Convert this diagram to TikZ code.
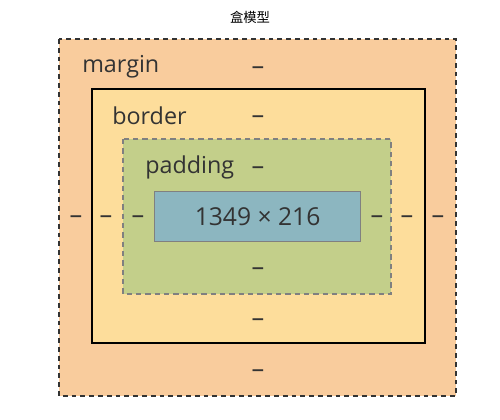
\documentclass[tikz,border=0pt]{standalone}
\usepackage{fontspec}
\setmainfont{Open Sans}
\newfontfamily\cjk{Noto Sans CJK SC}
\definecolor{marginc}{HTML}{F9CC9D}
\definecolor{borderc}{HTML}{FDDD9B}
\definecolor{paddingc}{HTML}{C3CF8A}
\definecolor{contentc}{HTML}{8CB6C0}
\definecolor{txt}{HTML}{333333}
\begin{document}
\begin{tikzpicture}[x=0.75pt,y=-0.75pt,
  lbl/.style={text=txt,font=\fontsize{17.5}{20}\selectfont,inner sep=0pt},
  dsh/.style={text=txt,font=\fontsize{19}{20}\selectfont,inner sep=0pt,yshift=-3pt}]
\useasboundingbox (0,0) rectangle (500,419);
\node[inner sep=0pt,font=\cjk\fontsize{10}{11}\selectfont] (title) at (250,17) {盒模型};
\draw[fill=marginc,draw=black!80,line width=1.4pt,dash pattern=on 3.6pt off 3pt] (59,39) rectangle (456,396);
\draw[fill=borderc,draw=black,line width=1.5pt] (92,89) rectangle (425,343);
\draw[fill=paddingc,draw=black!50,line width=1.1pt,dash pattern=on 4pt off 3pt] (123,139) rectangle (391,294);
\node[draw=black!50,fill=contentc,line width=0.9pt,minimum width=206*0.75pt,minimum height=50*0.75pt,inner sep=0pt,anchor=north west,text=txt,font=\fontsize{18.5}{20}\selectfont] (content) at (154,191) {1349 × 216};
\node[lbl,anchor=west] (ml) at (82,67) {margin};
\node[lbl,anchor=west] (bl) at (112,116) {border};
\node[lbl,anchor=west] (pl) at (145,167) {padding};
\node[dsh] (mt) at (258,67) {–};
\node[dsh] (bt) at (258,116) {–};
\node[dsh] (pt) at (258,167) {–};
\node[dsh] (pb) at (258,268) {–};
\node[dsh] (bb) at (258,319) {–};
\node[dsh] (mb) at (258,370) {–};
\node[dsh] (mlft) at (76,216) {–};
\node[dsh] (blft) at (106,216) {–};
\node[dsh] (plft) at (138,216) {–};
\node[dsh] (prt) at (377,216) {–};
\node[dsh] (brt) at (407,216) {–};
\node[dsh] (mrt) at (438,216) {–};
\end{tikzpicture}
\end{document}
